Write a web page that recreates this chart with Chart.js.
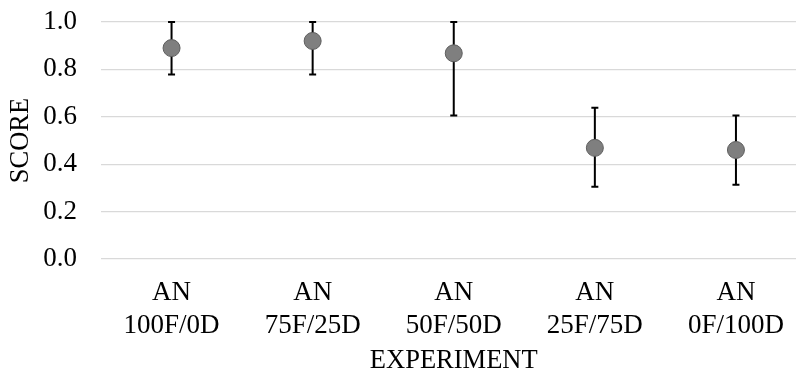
<!DOCTYPE html>
<html>
<head>
<meta charset="utf-8">
<script src="https://cdn.jsdelivr.net/npm/chart.js@4.4.1/dist/chart.umd.min.js"></script>
<style>
    html, body { margin: 0; padding: 0; background: #fff; overflow: hidden; }
    #wrap { position: relative; width: 816px; height: 374px; }
</style>
</head>
<body>
<div id="wrap"><canvas id="chart"></canvas></div>
<script>
const categories = [["AN", "100F/0D"], ["AN", "75F/25D"], ["AN", "50F/50D"], ["AN", "25F/75D"], ["AN", "0F/100D"]];
const scores = [0.89, 0.92, 0.868, 0.469, 0.46];
const errLow = [0.778, 0.778, 0.605, 0.305, 0.313];
const errHigh = [1.0, 1.0, 1.0, 0.638, 0.605];
const yTicks = [0, 0.2, 0.4, 0.6, 0.8, 1.0];

const serif = "'Liberation Serif', 'Times New Roman', serif";

// whiskers drawn under the markers
const errorBars = {
    id: "errorBars",
    beforeDatasetsDraw(chart) {
        const { ctx, scales: { x, y } } = chart;
        ctx.save();
        ctx.strokeStyle = "#000";
        ctx.lineWidth = 2;
        scores.forEach((v, i) => {
            const px = x.getPixelForValue(i);
            const top = y.getPixelForValue(errHigh[i]);
            const bot = y.getPixelForValue(errLow[i]);
            ctx.beginPath();
            ctx.moveTo(px, top);
            ctx.lineTo(px, bot);
            ctx.moveTo(px - 3.5, top);
            ctx.lineTo(px + 3.5, top);
            ctx.moveTo(px - 3.5, bot);
            ctx.lineTo(px + 3.5, bot);
            ctx.stroke();
        });
        ctx.restore();
    }
};

new Chart(document.getElementById("chart").getContext("2d"), {
    type: "line",
    data: {
        labels: categories,
        datasets: [{
            data: scores,
            showLine: false,
            pointRadius: 8.5,
            pointHoverRadius: 8.5,
            pointBackgroundColor: "#7f7f7f",
            pointBorderColor: "#5e5e5e",
            pointBorderWidth: 1
        }]
    },
    options: {
        responsive: true,
        maintainAspectRatio: false,
        animation: false,
        events: [],
        layout: { padding: { top: 22, right: 3, bottom: 0, left: 0 } },
        plugins: {
            legend: { display: false },
            tooltip: { enabled: false }
        },
        scales: {
            x: {
                offset: true,
                afterFit: (axis) => {
                    axis.height = 115;
                    axis.paddingLeft = 0;
                    axis.paddingRight = 0;
                },
                grid: { display: false, drawTicks: false },
                border: { display: false },
                ticks: {
                    color: "#000",
                    padding: 17,
                    maxRotation: 0,
                    autoSkip: false,
                    font: { family: serif, size: 27, lineHeight: 1.222 }
                },
                title: {
                    display: true,
                    text: "EXPERIMENT",
                    color: "#000",
                    padding: { top: 0, bottom: 0 },
                    font: { family: serif, size: 26.5, lineHeight: 1.0 }
                }
            },
            y: {
                min: 0,
                max: 1,
                afterBuildTicks: (axis) => { axis.ticks = yTicks.map((v) => ({ value: v })); },
                afterFit: (axis) => {
                    axis.width = 101;
                    axis.paddingTop = 0;
                    axis.paddingBottom = 0;
                },
                grid: { color: "#d9d9d9", lineWidth: 1.3, drawTicks: false },
                border: { display: false },
                ticks: {
                    color: "#000",
                    padding: 24,
                    callback: (v) => Number(v).toFixed(1),
                    font: { family: serif, size: 27 }
                },
                title: {
                    display: true,
                    text: "SCORE",
                    color: "#000",
                    padding: { top: 0, bottom: 0 },
                    font: { family: serif, size: 26.5, lineHeight: 1.6 }
                }
            }
        }
    },
    plugins: [errorBars]
});
</script>
</body>
</html>
